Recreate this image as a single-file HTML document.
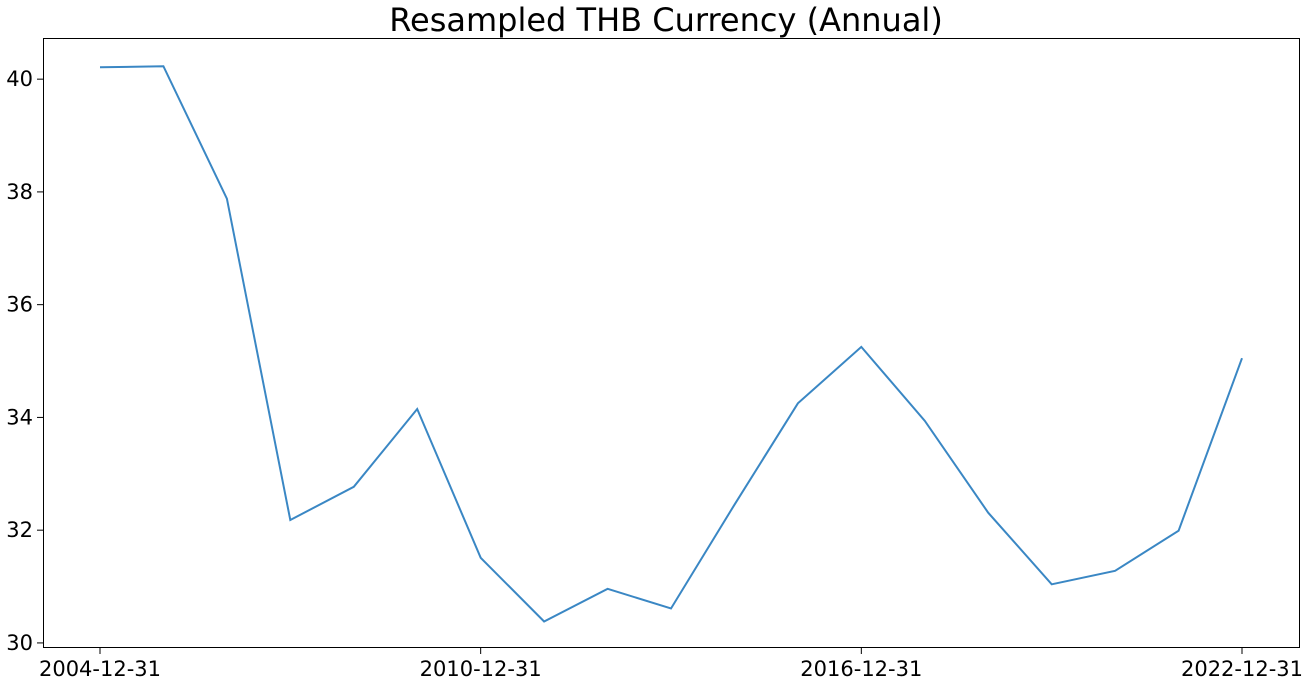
<!DOCTYPE html>
<html><head><meta charset="utf-8"><style>
body{margin:0;background:#fff;}
svg{display:block;font-family:"DejaVu Sans","Liberation Sans",sans-serif;}
</style></head><body>
<svg id="chart" width="1312" height="687">
<text x="666" y="31" text-anchor="middle" font-size="32" fill="#000">Resampled THB Currency (Annual)</text>
<rect x="43.5" y="38.5" width="1256" height="609" fill="none" stroke="#000" stroke-width="1"/>
<g id="axes"></g>
<path id="line" fill="none" stroke="#3a87c4" stroke-width="2"/>
</svg>
<script>
const years = [2004,2005,2006,2007,2008,2009,2010,2011,2012,2013,2014,2015,2016,2017,2018,2019,2020,2021,2022];
const values = [40.21,40.23,37.88,32.18,32.77,34.15,31.51,30.38,30.96,30.61,32.45,34.25,35.25,33.94,32.31,31.04,31.28,31.99,35.05];
const yTicks = [30,32,34,36,38,40];
const xTickYears = [2004,2010,2016,2022];
const xTickLabels = ["2004-12-31","2010-12-31","2016-12-31","2022-12-31"];

const NS="http://www.w3.org/2000/svg";
const xs = y => 100 + (y-2004)*(1242-100)/18;
const ys = v => 648 - (v-29.91)*(648-38)/(40.73-29.91);
const axes=document.getElementById('axes');
function mk(tag,attrs){const e=document.createElementNS(NS,tag);for(const k in attrs)e.setAttribute(k,attrs[k]);return e;}
yTicks.forEach(t=>{
  const y=ys(t);
  const l=mk('line',{x1:37,x2:43,y1:y,y2:y,stroke:'#000'});
  
  
  axes.appendChild(l);
  const tx=mk('text',{x:33,y:y+7,'text-anchor':'end','font-size':21});
  
  
  tx.textContent=t;axes.appendChild(tx);
});
xTickYears.forEach((yr,i)=>{
  const x=xs(yr);
  const l=mk('line',{x1:x,x2:x,y1:648,y2:654,stroke:'#000'});
  
  
  axes.appendChild(l);
  const tx=mk('text',{x:x,y:676,'text-anchor':'middle','font-size':21});
  
  
  tx.textContent=xTickLabels[i];axes.appendChild(tx);
});
document.getElementById('line').setAttribute('d',years.map((y,i)=>(i?'L':'M')+xs(y).toFixed(1)+','+ys(values[i]).toFixed(1)).join(''));
</script>
</body></html>
